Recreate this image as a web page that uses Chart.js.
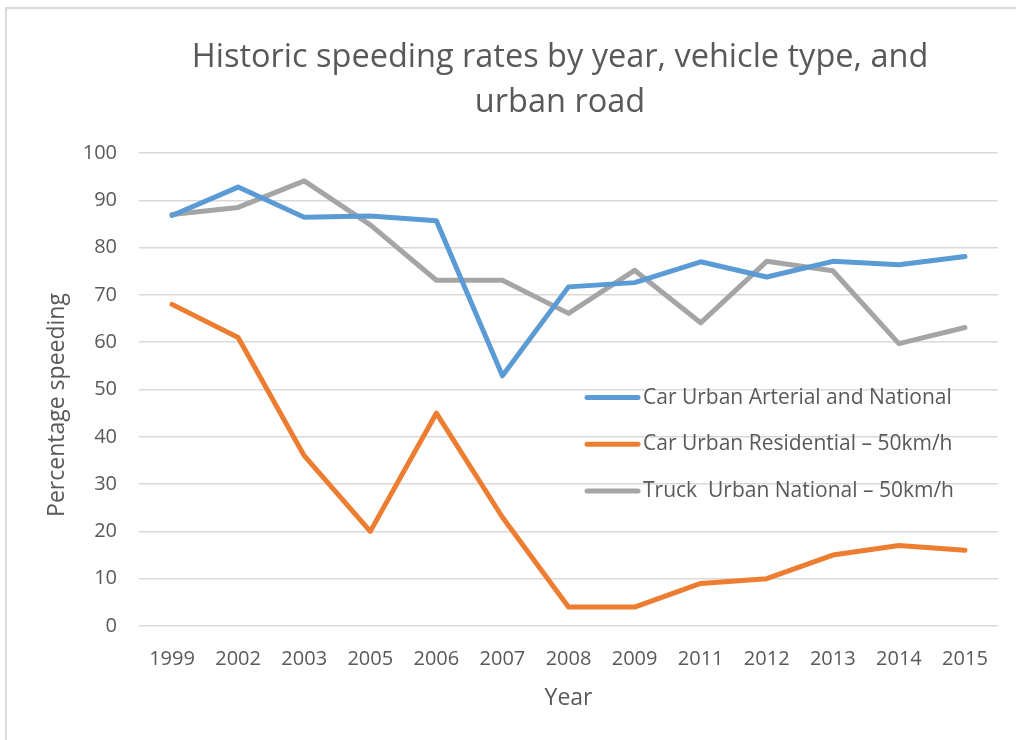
<!DOCTYPE html>
<html>
<head>
<meta charset="utf-8">
<title>Historic speeding rates</title>
<script src="https://cdn.jsdelivr.net/npm/chart.js@4.4.0/dist/chart.umd.min.js"></script>
<style>
  html, body { margin: 0; padding: 0; background: #fff; overflow: hidden; }
  #moldura {
    position: absolute; left: 5px; top: 7px; width: 1200px; height: 800px;
    border-left: 2px solid #d9d9d9; border-top: 2px solid #d9d9d9;
  }
  #grafico { position: absolute; left: 0; top: 0; }
</style>
</head>
<body>
<div id="moldura"></div>
<canvas id="grafico" width="1120" height="760"></canvas>
<script>
// Dados
const anos = ['1999', '2002', '2003', '2005', '2006', '2007', '2008', '2009', '2011', '2012', '2013', '2014', '2015'];
const carroArterial = [86.8, 92.8, 86.4, 86.7, 85.7, 52.9, 71.7, 72.6, 77.0, 73.8, 77.1, 76.4, 78.1];
const carroResidencial = [68, 61, 36, 20, 45, 23, 4, 4, 9, 10, 15, 17, 16];
const caminhaoNacional = [87.0, 88.5, 94.1, 84.8, 73.1, 73.1, 66.1, 75.2, 64.1, 77.1, 75.1, 59.7, 63.1];
const nomesSeries = ['Car Urban Arterial and National', 'Car Urban Residential \u2013 50km/h', 'Truck  Urban National \u2013 50km/h'];
const coresSeries = ['#5B9BD5', '#ED7D31', '#A5A5A5'];
const tituloGrafico = ['Historic speeding rates by year, vehicle type, and', 'urban road'];
const tituloEixoX = 'Year';
const tituloEixoY = 'Percentage speeding';
const eixoYMin = 0, eixoYMax = 100, eixoYPasso = 10;

const corTexto = '#595959';
const fonte = '"Open Sans", Lato, sans-serif';

// Legenda desenhada dentro da área do gráfico, e título do eixo Y
const legendaInterna = {
  id: 'legendaInterna',
  afterLayout(chart) {
    // o título do original fica centrado um pouco à esquerda da área do gráfico
    if (chart.titleBlock) chart.titleBlock.left = 122;
  },
  afterDraw(chart) {
    const ctx = chart.ctx;
    const area = chart.chartArea;
    const x0 = area.left + 446;
    const y0 = area.top + 244.5;
    const passo = 46.7;
    ctx.save();
    ctx.font = '21px ' + fonte;
    ctx.textBaseline = 'middle';
    ctx.textAlign = 'left';
    chart.data.datasets.forEach((ds, i) => {
      const y = y0 + i * passo;
      ctx.strokeStyle = ds.borderColor;
      ctx.lineWidth = 5;
      ctx.lineCap = 'round';
      ctx.beginPath();
      ctx.moveTo(x0 + 2, y);
      ctx.lineTo(x0 + 53, y);
      ctx.stroke();
      ctx.fillStyle = corTexto;
      ctx.fillText(ds.label, x0 + 58, y);
    });
    ctx.restore();

    ctx.save();
    ctx.translate(57, 405);
    ctx.rotate(-Math.PI / 2);
    ctx.font = '23px ' + fonte;
    ctx.fillStyle = corTexto;
    ctx.textAlign = 'center';
    ctx.textBaseline = 'middle';
    ctx.fillText(tituloEixoY, 0, 0);
    ctx.restore();
  }
};

const series = [carroArterial, carroResidencial, caminhaoNacional];

const ctx = document.getElementById('grafico').getContext('2d');
const grafico = new Chart(ctx, {
  type: 'line',
  data: {
    labels: anos,
    datasets: series.map((valores, i) => ({
      label: nomesSeries[i],
      data: valores,
      borderColor: coresSeries[i],
      backgroundColor: coresSeries[i],
      borderWidth: 5,
      borderCapStyle: 'round',
      borderJoinStyle: 'round',
      pointRadius: 0,
      tension: 0,
      fill: false,
    })),
  },
  options: {
    responsive: false,
    animation: false,
    layout: { padding: { left: 0, right: 122, top: 0, bottom: 0 } },
    plugins: {
      legend: { display: false },
      tooltip: { enabled: false },
      title: {
        display: true,
        text: tituloGrafico,
        color: corTexto,
        font: { family: fonte, size: 32.5, weight: 'normal', lineHeight: 1.385 },
        padding: { top: 35, bottom: 28 },
      },
    },
    scales: {
      x: {
        offset: true,
        grid: { display: false, drawTicks: false },
        border: { display: false },
        ticks: { color: corTexto, font: { family: fonte, size: 20 }, padding: 21, maxRotation: 0 },
        title: {
          display: true,
          text: tituloEixoX,
          color: corTexto,
          font: { family: fonte, size: 23 },
          padding: { top: 0, bottom: 48 },
        },
        afterFit: (escala) => { escala.height = 134; },
      },
      y: {
        min: eixoYMin,
        max: eixoYMax,
        grid: { color: '#d9d9d9', lineWidth: 1.5, drawTicks: false },
        border: { display: false },
        ticks: { stepSize: eixoYPasso, color: corTexto, font: { family: fonte, size: 20 }, padding: 22 },
        afterFit: (escala) => { escala.width = 139; },
      },
    },
  },
  plugins: [legendaInterna],
});
</script>
</body>
</html>
